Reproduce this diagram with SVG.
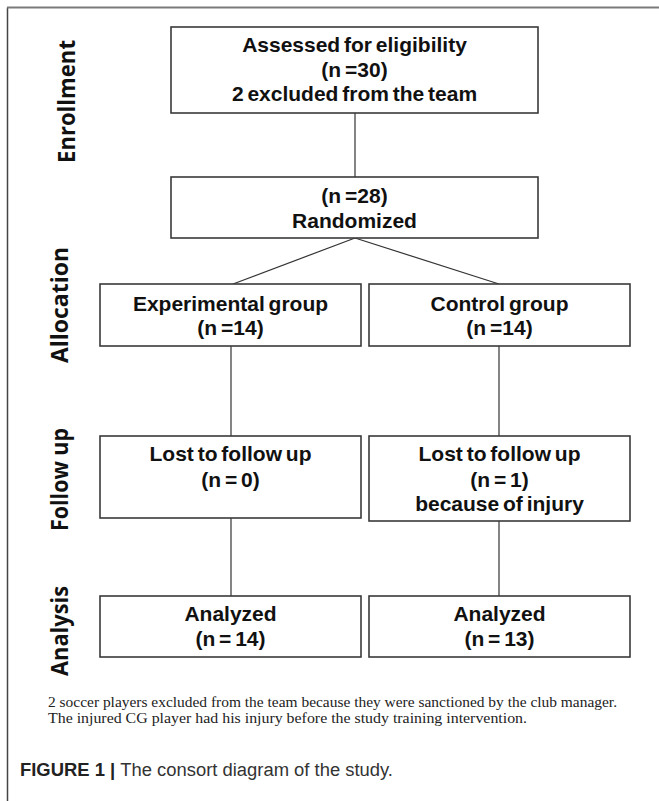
<svg xmlns="http://www.w3.org/2000/svg" width="659" height="801" viewBox="0 0 659 801">
<style>
.box{fill:#fff;stroke:#3a3a3a;stroke-width:1.6}
.conn{fill:none;stroke:#333;stroke-width:1.2}
.t{font-family:"Liberation Sans",Arial,sans-serif;font-weight:bold;font-size:21px;fill:#111;text-anchor:middle;word-spacing:-2px}
.side{font-family:"Open Sans","DejaVu Sans",sans-serif;font-weight:bold;font-size:23px;fill:#111;text-anchor:middle}
.note{font-family:"Liberation Serif","Times New Roman",serif;font-size:15px;fill:#222}
.cap{font-family:"Liberation Sans",Arial,sans-serif;font-size:18px;fill:#333}
</style>
<rect width="659" height="801" fill="#fff"/>
<path d="M7.5,801 V7.5" stroke="#444" stroke-width="1.5" fill="none"/>
<path d="M7,7.5 H659" stroke="#7a7a7a" stroke-width="2" fill="none"/>
<g id="labels">
<text class="side" transform="translate(75,101.5) rotate(-90)" textLength="123" lengthAdjust="spacingAndGlyphs">Enrollment</text>
<text class="side" transform="translate(68,305) rotate(-90)" textLength="116" lengthAdjust="spacingAndGlyphs">Allocation</text>
<text class="side" transform="translate(68,479.5) rotate(-90)" textLength="103" lengthAdjust="spacingAndGlyphs">Follow up</text>
<text class="side" transform="translate(68,631) rotate(-90)" textLength="90" lengthAdjust="spacingAndGlyphs">Analysis</text>
</g>
<g id="connectors">
<line class="conn" x1="355" y1="113" x2="355" y2="177"/>
<line class="conn" x1="355" y1="238" x2="233" y2="284"/>
<line class="conn" x1="355" y1="238" x2="499" y2="284"/>
<line class="conn" x1="231" y1="346" x2="231" y2="436"/>
<line class="conn" x1="499" y1="346" x2="499" y2="436"/>
<line class="conn" x1="231" y1="518" x2="231" y2="596"/>
<line class="conn" x1="499" y1="521" x2="499" y2="596"/>
</g>
<g id="assessed">
<rect class="box" x="171" y="27" width="367" height="86"/>
<text class="t" x="354.5" y="52">Assessed for eligibility</text>
<text class="t" x="354.5" y="77">(n =30)</text>
<text class="t" x="354.5" y="101">2 excluded from the team</text>
</g>
<g id="randomized">
<rect class="box" x="171" y="177" width="367" height="61"/>
<text class="t" x="354.5" y="203">(n =28)</text>
<text class="t" x="354.5" y="228">Randomized</text>
</g>
<g id="experimental">
<rect class="box" x="100" y="284" width="261" height="62"/>
<text class="t" x="230.5" y="311">Experimental group</text>
<text class="t" x="230.5" y="335">(n =14)</text>
</g>
<g id="control">
<rect class="box" x="369" y="284" width="261" height="62"/>
<text class="t" x="499.5" y="311">Control group</text>
<text class="t" x="499.5" y="335">(n =14)</text>
</g>
<g id="lost-exp">
<rect class="box" x="100" y="436" width="261" height="82"/>
<text class="t" x="230.5" y="461">Lost to follow up</text>
<text class="t" x="230.5" y="487">(n = 0)</text>
</g>
<g id="lost-ctrl">
<rect class="box" x="369" y="436" width="261" height="85"/>
<text class="t" x="499.5" y="461">Lost to follow up</text>
<text class="t" x="499.5" y="487">(n = 1)</text>
<text class="t" x="499.5" y="511">because of injury</text>
</g>
<g id="analyzed-exp">
<rect class="box" x="100" y="596" width="261" height="61"/>
<text class="t" x="230.5" y="621">Analyzed</text>
<text class="t" x="230.5" y="646">(n = 14)</text>
</g>
<g id="analyzed-ctrl">
<rect class="box" x="369" y="596" width="261" height="61"/>
<text class="t" x="499.5" y="621">Analyzed</text>
<text class="t" x="499.5" y="646">(n = 13)</text>
</g>
<g id="notes">
<text class="note" x="48" y="707" textLength="569" lengthAdjust="spacingAndGlyphs">2 soccer players excluded from the team because they were sanctioned by the club manager.</text>
<text class="note" x="48" y="723" textLength="479" lengthAdjust="spacingAndGlyphs">The injured CG player had his injury before the study training intervention.</text>
</g>
<g id="caption">
<text class="cap" x="20" y="776" textLength="373" lengthAdjust="spacingAndGlyphs"><tspan font-weight="bold" fill="#222">FIGURE 1 | </tspan>The consort diagram of the study.</text>
</g>
</svg>
